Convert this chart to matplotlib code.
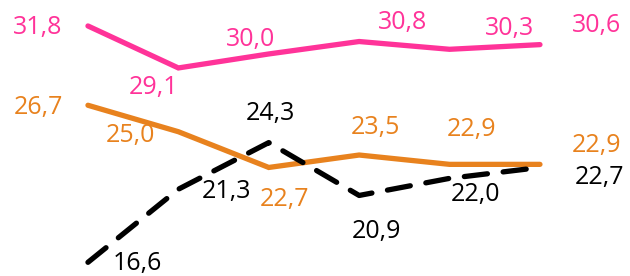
import matplotlib.pyplot as plt

x = [0, 1, 2, 3, 4, 5]
pink = [31.8, 29.1, 30.0, 30.8, 30.3, 30.6]
orange = [26.7, 25.0, 22.7, 23.5, 22.9, 22.9]
black = [16.6, 21.3, 24.3, 20.9, 22.0, 22.7]

# label offsets (pixels) relative to each point
pink_off = [(-50, -2), (-25, -20), (-18, 14), (43, 19), (60, 21), (57, 19)]
orange_off = [(-50, -2), (-48, -4), (16, -32), (16, 28), (22, 35), (57, 19)]
black_off = [(49, -1), (48, -2), (2, 29), (17, -36), (26, -16), (60, -10)]

c_pink = "#FF3399"
c_orange = "#E8821E"
c_black = "#000000"

fig = plt.figure(figsize=(6.3, 2.76), dpi=100)
ax = fig.add_axes([0, 0, 1, 1])
ax.axis("off")

ax.plot(x, pink, color=c_pink, lw=3.8, solid_capstyle="round", solid_joinstyle="miter")
ax.plot(x, orange, color=c_orange, lw=3.8, solid_capstyle="round", solid_joinstyle="miter")
ax.plot(x, black, color=c_black, lw=3.8, dashes=(4.4, 3.0), dash_capstyle="round")

def label(vals, offs, color):
    for i, (v, o) in enumerate(zip(vals, offs)):
        ax.annotate(f"{v:.1f}".replace(".", ","), (x[i], v), xytext=o,
                    textcoords="offset pixels", ha="center", va="center",
                    color=color, fontsize=18, family="Open Sans")

label(pink, pink_off, c_pink)
label(orange, orange_off, c_orange)
label(black, black_off, c_black)

ax.set_xlim(-0.973, 5.996)
ax.set_ylim(15.72, 33.47)

fig.savefig("out.png", dpi=100)
